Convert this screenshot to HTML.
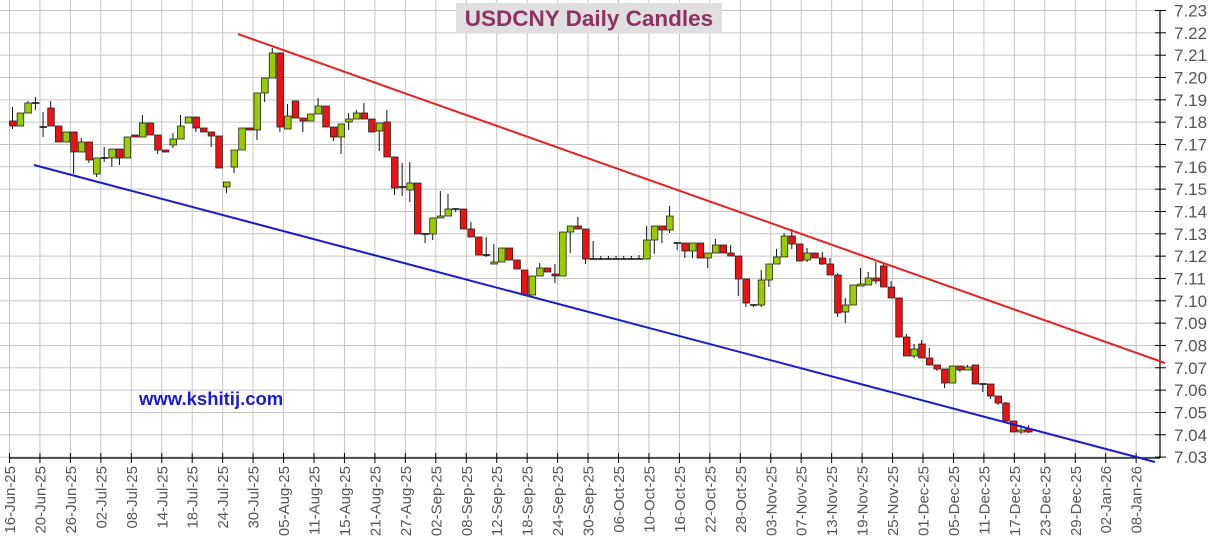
<!DOCTYPE html>
<html><head><meta charset="utf-8"><style>
html,body{margin:0;padding:0;background:#fff;width:1211px;height:553px;overflow:hidden}
svg{display:block}
</style></head><body>
<svg id="s" width="1211" height="553" xmlns="http://www.w3.org/2000/svg" font-family="Liberation Sans, Arial, sans-serif"></svg>
<script>
var s=document.getElementById('s'),h='';
function Y(i){return 10.5+22.33*i;}
for(var i=0;i<=20;i++){var y=Y(i);h+='<line x1="0" y1="'+y+'" x2="1160" y2="'+y+'" stroke="#c4c4c4" stroke-width="1"/>';
h+='<line x1="1155" y1="'+y+'" x2="1166" y2="'+y+'" stroke="#000"/>';
h+='<text x="1174" y="'+(y+6)+'" font-size="17" fill="#555">'+(7.23-i*0.01).toFixed(2)+'</text>';}
var labs=["16-Jun-25","20-Jun-25","26-Jun-25","02-Jul-25","08-Jul-25","14-Jul-25","18-Jul-25","24-Jul-25","30-Jul-25","05-Aug-25","11-Aug-25","15-Aug-25","21-Aug-25","27-Aug-25","02-Sep-25","08-Sep-25","12-Sep-25","18-Sep-25","24-Sep-25","30-Sep-25","06-Oct-25","10-Oct-25","16-Oct-25","22-Oct-25","28-Oct-25","03-Nov-25","07-Nov-25","13-Nov-25","19-Nov-25","25-Nov-25","01-Dec-25","05-Dec-25","11-Dec-25","17-Dec-25","23-Dec-25","29-Dec-25","02-Jan-26","08-Jan-26"];
for(var i=0;i<labs.length;i++){var x=9.5+30.45*i;
h+='<line x1="'+x+'" y1="0" x2="'+x+'" y2="458" stroke="#c4c4c4"/>';
h+='<line x1="'+x+'" y1="453" x2="'+x+'" y2="463" stroke="#000"/>';
h+='<text transform="translate('+(x+5.5)+',466) rotate(-90)" text-anchor="end" font-size="15" fill="#555">'+labs[i]+'</text>';}
h+='<line x1="9" y1="458" x2="1160" y2="458" stroke="#000" stroke-width="1.2"/>';
h+='<line x1="1160" y1="10" x2="1160" y2="458" stroke="#000" stroke-width="1.2"/>';
var C=[
"r,121,126,107,129","g,113,126,113,126","g,103,113,101,113","d,103,103,97,110","d,127,127,112,137",
"r,108,126,101,126","r,126,142,126,142","g,132,142,132,142","r,132,152,132,174","g,142,152,138,152",
"r,142,160,142,163","g,158,174,158,177","d,158,158,147,162","g,149,158,149,167","r,149,158,149,165",
"g,137,158,137,158","r,135,137,135,137","g,123,137,115,137","r,123,135,123,135","r,135,150,135,154",
"r,150,152,150,152","g,139,145,133,148","g,126,139,115,139","g,117,123,117,123","r,117,128,117,132",
"r,128,132,128,132","r,132,136,132,147","r,136,168,136,168","g,182,187,182,193","g,150,167,150,173",
"g,128,150,128,150","r,128,130,128,130","g,93,130,93,140","g,78,93,78,102","g,53,78,48,78",
"r,53,127,53,132","g,116,129,104,129","r,101,118,101,118","r,118,121,118,132","g,114,121,114,121",
"g,106,114,98,114","r,106,127,106,127","r,127,137,127,141","g,124,137,124,154","g,119,122,113,130",
"g,113,119,110,119","r,113,119,103,119","r,119,132,119,132","g,123,131,123,151","r,122,157,110,157",
"r,157,188,157,195","d,187,187,163,196","g,183,190,162,202","r,183,234,183,234","d,234,234,234,243",
"g,218,234,218,240","g,216,218,191,218","g,209,216,194,216","d,209,209,209,212","r,209,229,209,229",
"r,229,237,222,237","r,237,255,237,255","d,255,255,237,257","g,262,264,244,264","g,248,262,248,262",
"r,248,260,248,260","r,260,269,260,269","r,270,295,270,295","g,276,295,276,295","g,268,276,263,276",
"r,268,272,268,272","r,274,276,264,283","g,232,276,232,276","g,226,232,226,253","r,226,229,217,229",
"r,229,259,229,264","d,259,259,241,259","d,259,259,256,259","d,259,259,256,259","d,259,259,256,259",
"d,259,259,256,259","d,259,259,256,259","d,259,259,255,259","g,240,259,226,259","g,226,240,226,254",
"r,226,230,226,243","g,216,230,206,233","d,243,243,243,250","r,243,251,243,258","g,243,251,243,258",
"r,243,258,243,258","g,253,258,253,268","g,245,253,239,253","r,245,253,245,253","r,253,256,245,256",
"r,256,279,256,296","r,279,303,279,307","d,305,305,305,307","g,280,305,270,307","g,264,280,264,287",
"g,257,264,249,264","g,236,257,233,257","r,236,244,229,249","r,244,261,244,261","g,253,260,248,262",
"r,253,258,253,258","r,258,264,252,265","r,264,275,258,275","r,275,313,273,317","g,305,312,298,323",
"g,285,305,285,305","g,284,286,268,286","g,278,285,272,285","r,278,281,262,284","r,266,287,263,287",
"r,287,298,281,298","r,298,337,298,337","r,337,356,334,356","g,349,356,344,358","r,344,358,340,358",
"r,358,365,348,365","r,365,369,365,371","r,369,383,369,388","g,366,383,366,383","r,366,370,366,372",
"g,367,370,365,370","r,365,384,365,384","d,384,384,384,392","r,384,396,384,399","r,396,403,396,405",
"r,403,421,402,421","r,421,432,421,432","g,430,432,425,434","r,429,432,425,433"];
for(var k=0;k<C.length;k++){var p=C[k].split(','),x=9+7.64*k,t=+p[1],b=+p[2],hi=+p[3],lo=+p[4],cx=x+3.5;
h+='<line x1="'+cx+'" y1="'+hi+'" x2="'+cx+'" y2="'+lo+'" stroke="#111" stroke-width="1"/>';
if(p[0]=='d'){h+='<line x1="'+x+'" y1="'+t+'" x2="'+(x+7.5)+'" y2="'+t+'" stroke="#111" stroke-width="1.6"/>';}
else{if(b-t<2)b=t+2;h+='<rect x="'+(x+0.5)+'" y="'+t+'" width="6.6" height="'+(b-t)+'" fill="'+(p[0]=='g'?'#99cc00':'#ee1111')+'" stroke="#222" stroke-width="0.8"/>';}}
h+='<line x1="238" y1="34" x2="1165" y2="363" stroke="#e82020" stroke-width="2"/>';
h+='<line x1="34" y1="165" x2="1155" y2="462" stroke="#1a1ad0" stroke-width="2"/>';
h+='<rect x="456" y="3" width="266" height="30" fill="#e0dfe0"/>';
h+='<text x="589" y="26" text-anchor="middle" font-size="22.5" font-weight="bold" fill="#8e3262">USDCNY Daily Candles</text>';
h+='<text x="139" y="405" font-size="18.5" font-weight="bold" fill="#1a1ad0">www.kshitij.com</text>';
s.innerHTML=h;
</script>
</body></html>
